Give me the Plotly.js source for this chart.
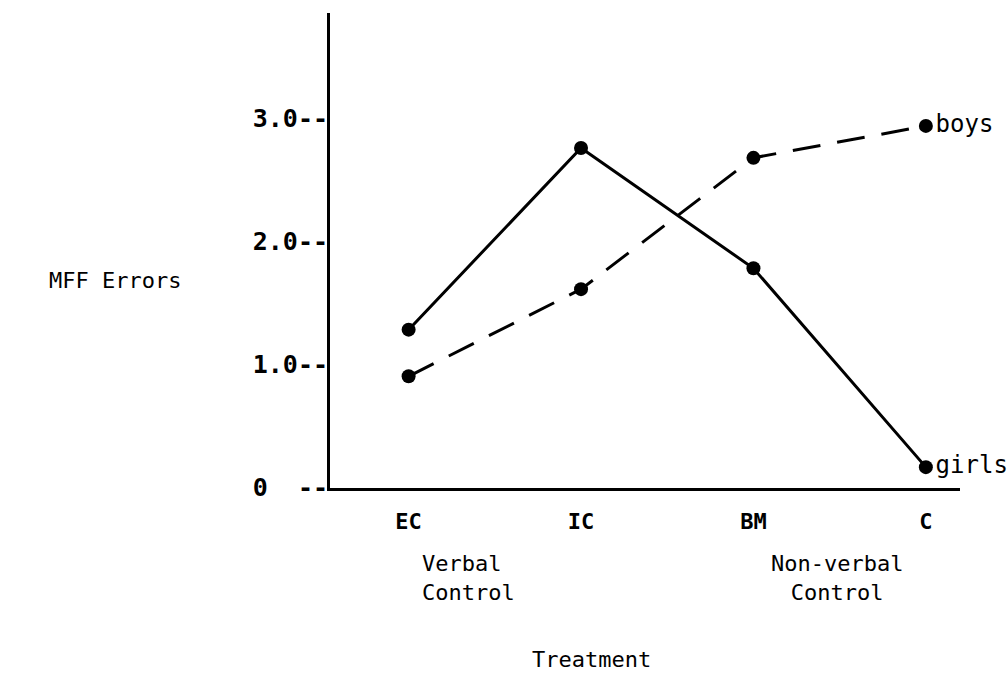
<!DOCTYPE html>
<html>
<head>
<meta charset="utf-8">
<script src="https://cdn.plot.ly/plotly-3.0.1.min.js"></script>
<style>html,body{margin:0;padding:0;background:#fff;}#chart{width:1008px;height:677px;}</style>
</head>
<body>
<div id="chart"></div>
<script>
var treatments = ["EC", "IC", "BM", "C"];
var girlsErrors = [1.28, 2.76, 1.78, 0.16];
var boysErrors = [0.90, 1.61, 2.68, 2.94];
var seriesNames = ["girls", "boys"];
var yTickVals = [0, 1, 2, 3];
var yTickText = ["0  --", "1.0--", "2.0--", "3.0--"];
var groupLabels = ["Verbal<br>Control", "Non-verbal<br>Control"];
var xTitle = "Treatment";
var yTitle = "MFF Errors";

var FONT = "DejaVu Sans Mono, Liberation Mono, monospace";

function endLabel(arr, name) {
  return arr.map(function (v, i) { return i === arr.length - 1 ? name : ""; });
}

var traces = [
  {
    x: treatments, y: girlsErrors, name: seriesNames[0],
    mode: "lines+markers+text",
    text: endLabel(girlsErrors, seriesNames[0]),
    textposition: "middle right",
    textfont: {family: FONT, size: 24, color: "#000"},
    line: {color: "#000", width: 3},
    marker: {color: "#000", size: 14},
    cliponaxis: false
  },
  {
    x: treatments, y: boysErrors, name: seriesNames[1],
    mode: "lines+markers+text",
    text: endLabel(boysErrors, seriesNames[1]),
    textposition: "middle right",
    textfont: {family: FONT, size: 24, color: "#000"},
    line: {color: "#000", width: 3, dash: "28px,17px"},
    marker: {color: "#000", size: 14},
    cliponaxis: false
  }
];

var layout = {
  width: 1008, height: 677,
  margin: {l: 330, r: 48, t: 13, b: 189},
  paper_bgcolor: "#fff", plot_bgcolor: "#fff",
  showlegend: false,
  font: {family: FONT, color: "#000"},
  xaxis: {
    type: "category",
    range: [-0.456, 3.198],
    showline: true, linecolor: "#000", linewidth: 3,
    showgrid: false, zeroline: false,
    ticks: "outside", ticklen: 12, tickcolor: "rgba(0,0,0,0)",
    tickfont: {family: FONT, size: 22, color: "#000", weight: "bold"}
  },
  yaxis: {
    range: [-0.01, 3.86],
    showline: true, linecolor: "#000", linewidth: 3,
    showgrid: false, zeroline: false,
    tickvals: yTickVals, ticktext: yTickText,
    ticks: "",
    ticklabelstandoff: -6,
    tickfont: {family: FONT, size: 25, color: "#000", weight: "bold"}
  },
  annotations: [
    {text: yTitle, xref: "paper", yref: "paper", x: -0.341, y: 0.436,
     xanchor: "center", yanchor: "middle", showarrow: false,
     font: {family: FONT, size: 22, color: "#000"}},
    {text: groupLabels[0], xref: "paper", yref: "paper", x: 0.143, y: -0.128,
     xanchor: "left", yanchor: "top", align: "left", showarrow: false,
     font: {family: FONT, size: 22, color: "#000"}},
    {text: groupLabels[1], xref: "paper", yref: "paper", x: 0.805, y: -0.128,
     xanchor: "center", yanchor: "top", align: "center", showarrow: false,
     font: {family: FONT, size: 22, color: "#000"}},
    {text: xTitle, xref: "paper", yref: "paper", x: 0.415, y: -0.33,
     xanchor: "center", yanchor: "top", showarrow: false,
     font: {family: FONT, size: 22, color: "#000"}}
  ]
};

Plotly.newPlot("chart", traces, layout, {displayModeBar: false, staticPlot: true});
</script>
</body>
</html>
